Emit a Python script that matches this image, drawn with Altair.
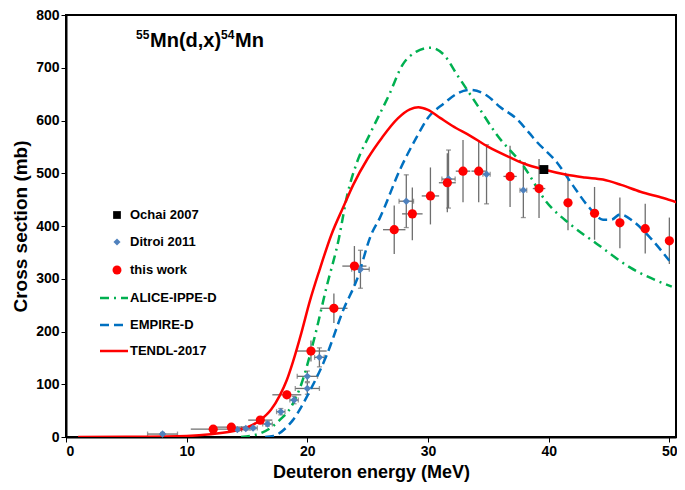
import altair as alt
import pandas as pd

# ---- data ----
tendl_E = [1.0, 5, 10, 12, 13, 14, 15, 16.1, 17, 17.7, 18.3, 18.8, 19.5, 20.2, 21.0, 22.0, 23.0, 23.8, 25, 26.2, 27.5, 28.5, 29.2, 30, 31, 32, 33.5, 35, 36.8, 38, 39.6, 41.5, 43, 44.5, 46, 47.6, 49.5, 51]
tendl_s = [0, 0.5, 2, 5, 8, 12, 18, 32, 52, 78, 108, 142, 197, 257, 316, 384, 437, 478, 528, 568, 604, 621, 625, 620, 605, 590, 571, 550, 530, 518, 507, 497, 492, 488, 478, 465, 453, 442]

alice_E = [14.5, 15.5, 16.1, 17, 17.7, 18.6, 19.5, 20.5, 21.6, 22.6, 23.3, 24.1, 25.2, 26.8, 27.9, 29, 30.2, 31.3, 32.4, 34.0, 35.7, 37.9, 39.8, 41.8, 44.0, 46.7, 50.2]
alice_s = [0, 3, 7, 18, 32, 55, 100, 180, 285, 375, 458, 520, 575, 650, 706, 730, 738, 725, 687, 632, 573, 514, 446, 403, 366, 322, 285]

empire_E = [16.5, 17.2, 18.3, 18.8, 20.2, 21.6, 23.0, 24.1, 25.3, 26.0, 27.7, 29.0, 30, 31.3, 32.5, 33.5, 34.9, 36.0, 37.3, 38.4, 39.0, 40.7, 42.0, 43.4, 44.5, 45.2, 45.9, 47.0, 48.4, 50.0]
empire_s = [0, 2, 19, 32, 87, 155, 242, 298, 384, 415, 508, 566, 605, 632, 652, 658, 647, 625, 604, 576, 560, 520, 477, 434, 412, 412, 422, 409, 378, 334]

work_E = [12.2, 13.7, 16.1, 18.3, 20.3, 22.2, 23.9, 27.2, 28.7, 30.2, 31.6, 32.9, 34.2, 36.8, 39.2, 41.6, 43.8, 45.9, 48.0, 50.0]
work_s = [14.8, 18.6, 32, 80, 163, 244, 324, 393, 423, 457, 482, 504, 504, 494, 471, 444, 424, 406, 395, 372]
work_dE = [1.86, 1.5, 1.0, 1.2, 1.3, 1.13, 1.0, 0.93, 0.85, 0.72, 0.7, 0.6, 0.6, 0.55, 0.52, 0.35, 0.3, 0.3, 0.3, 0.3]
work_ds = [3, 3, 5, 8, 20, 28, 38, 46, 50, 54, 56, 59, 59, 58, 56, 52, 50, 48, 47, 44]

ditroi_E = [8.0, 14.2, 14.9, 15.5, 16.7, 17.8, 18.9, 20.0, 20.0, 21.0, 24.4, 28.2, 31.7, 34.85, 37.9]
ditroi_s = [5.6, 14, 16, 17, 24.7, 48, 70, 92, 115, 151, 318, 447, 489, 498, 468]
ditroi_dE = [1.24, 0.35, 0.35, 0.35, 0.4, 0.35, 0.35, 1.0, 0.84, 0.4, 0.73, 0.6, 0.55, 0.3, 0.28]
ditroi_ds = [3, 3, 3, 3, 4, 6, 7, 11, 10, 18, 36, 50, 55, 56, 52]

ochai_E = [39.6]
ochai_s = [507]

FONT = "Liberation Sans"

xs = alt.Scale(domain=[0, 50.55], nice=False)
ys = alt.Scale(domain=[0, 800], nice=False)
xax = alt.Axis(title="Deuteron energy (MeV)", values=[0, 10, 20, 30, 40, 50], format="d")
yax = alt.Axis(title="Cross section (mb)", values=list(range(0, 801, 100)), format="d")


def curve_df(E, s):
    return pd.DataFrame({"E": E, "s": s})


def pts_df(E, s, dE, ds):
    d = pd.DataFrame({"E": E, "s": s, "dE": dE, "ds": ds})
    d["Elo"] = d.E - d.dE
    d["Ehi"] = d.E + d.dE
    d["slo"] = d.s - d.ds
    d["shi"] = d.s + d.ds
    return d


work = pts_df(work_E, work_s, work_dE, work_ds)
ditroi = pts_df(ditroi_E, ditroi_s, ditroi_dE, ditroi_ds)
ochai = curve_df(ochai_E, ochai_s)

GRAY = "#6e6e6e"

base_x = alt.X("E:Q", scale=xs, axis=xax)
base_y = alt.Y("s:Q", scale=ys, axis=yax)

# error bars
w_v = alt.Chart(work).mark_rule(color=GRAY, strokeWidth=1.3).encode(
    x=base_x, y=alt.Y("slo:Q", scale=ys, axis=yax), y2="shi:Q")
w_h = alt.Chart(work).mark_rule(color=GRAY, strokeWidth=1.3).encode(
    x=alt.X("Elo:Q", scale=xs, axis=xax), x2="Ehi:Q", y=base_y)
d_v = alt.Chart(ditroi).mark_errorbar(ticks=True, color=GRAY, thickness=1.3).encode(
    x=base_x, y=alt.Y("slo:Q", scale=ys, axis=yax, title="Cross section (mb)"), y2="shi:Q")
d_h = alt.Chart(ditroi).mark_errorbar(ticks=True, color=GRAY, thickness=1.3).encode(
    y=base_y, x=alt.X("Elo:Q", scale=xs, axis=xax, title="Deuteron energy (MeV)"), x2="Ehi:Q")

# model curves
tendl = alt.Chart(curve_df(tendl_E, tendl_s)).mark_line(
    color="#ff0000", strokeWidth=2.5, interpolate="monotone", clip=True).encode(x=base_x, y=base_y)
alice = alt.Chart(curve_df(alice_E, alice_s)).mark_line(
    color="#00b050", strokeWidth=2.5, strokeDash=[9, 5, 2, 5], interpolate="monotone", clip=True).encode(x=base_x, y=base_y)
empire = alt.Chart(curve_df(empire_E, empire_s)).mark_line(
    color="#0070c0", strokeWidth=2.5, strokeDash=[9, 5], interpolate="monotone", clip=True).encode(x=base_x, y=base_y)

# points
w_pts = alt.Chart(work).mark_point(shape="circle", filled=True, color="#ff0000", size=85, opacity=1).encode(x=base_x, y=base_y)
d_pts = alt.Chart(ditroi).mark_point(shape="diamond", filled=True, color="#4f81bd", size=55, opacity=1).encode(x=base_x, y=base_y)
o_pts = alt.Chart(ochai).mark_point(shape="square", filled=True, color="#000000", size=80, opacity=1).encode(x=base_x, y=base_y)

# legend (manual)
one = pd.DataFrame({"a": [0]})
legend_layers = []
labels = ["Ochai 2007", "Ditroi 2011", "this work", "ALICE-IPPE-D", "EMPIRE-D", "TENDL-2017"]
rows_y = [200, 227, 255, 283, 310, 336]
for lab, yy in zip(labels, rows_y):
    legend_layers.append(alt.Chart(one).mark_text(
        align="left", baseline="middle", font=FONT, fontWeight="bold", fontSize=13, color="black"
    ).encode(x=alt.value(64), y=alt.value(yy), text=alt.value(lab)))
legend_layers.append(alt.Chart(one).mark_point(shape="square", filled=True, color="black", size=60, opacity=1)
                     .encode(x=alt.value(51), y=alt.value(rows_y[0])))
legend_layers.append(alt.Chart(one).mark_point(shape="diamond", filled=True, color="#4f81bd", size=50, opacity=1)
                     .encode(x=alt.value(51), y=alt.value(rows_y[1])))
legend_layers.append(alt.Chart(one).mark_point(shape="circle", filled=True, color="#ff0000", size=80, opacity=1)
                     .encode(x=alt.value(51), y=alt.value(rows_y[2])))
legend_layers.append(alt.Chart(one).mark_rule(color="#00b050", strokeWidth=2.5, strokeDash=[9, 5, 2, 5])
                     .encode(x=alt.value(34), x2=alt.value(62), y=alt.value(rows_y[3])))
legend_layers.append(alt.Chart(one).mark_rule(color="#0070c0", strokeWidth=2.5, strokeDash=[9, 5])
                     .encode(x=alt.value(34), x2=alt.value(62), y=alt.value(rows_y[4])))
legend_layers.append(alt.Chart(one).mark_rule(color="#ff0000", strokeWidth=2.5)
                     .encode(x=alt.value(34), x2=alt.value(62), y=alt.value(rows_y[5])))

# reaction label
title_parts = [("55", 12, 70, 24), ("Mn(d,x)", 20, 84, 32), ("54", 12, 155, 24), ("Mn", 20, 169, 32)]
for txt, fs, xx, yy in title_parts:
    legend_layers.append(alt.Chart(one).mark_text(
        align="left", baseline="alphabetic", font=FONT, fontWeight="bold", fontSize=fs, color="black"
    ).encode(x=alt.value(xx), y=alt.value(yy), text=alt.value(txt)))

chart = alt.layer(
    w_v, w_h, d_v, d_h, alice, empire, tendl, d_pts, w_pts, o_pts, *legend_layers
).properties(
    width=610, height=422,
    autosize=alt.AutoSizeParams(type="none"),
    padding={"left": 58, "top": 7, "right": 1, "bottom": 45},
    background="white",
).configure_view(
    stroke="black", strokeWidth=2
).configure_axis(
    grid=False,
    labelFont=FONT, labelFontWeight="bold", labelFontSize=14, labelColor="black",
    titleFont=FONT, titleFontWeight="bold", titleColor="black",
    domainColor="black", domainWidth=2, tickColor="black", tickSize=5, tickWidth=1,
    labelPadding=2,
).configure_axisX(titlePadding=5, titleFontSize=18).configure_axisY(titlePadding=5, titleFontSize=19)

chart.save("out.html", embed_options={"renderer": "svg", "actions": False})
